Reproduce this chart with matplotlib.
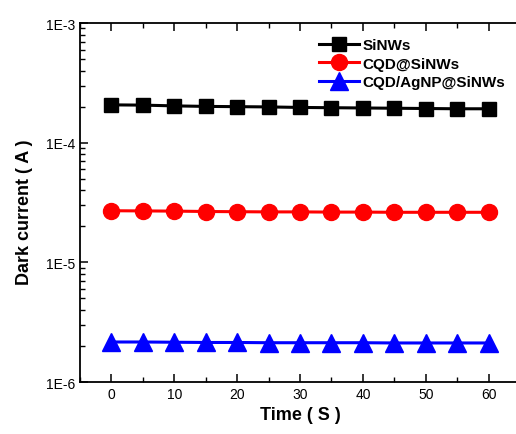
import matplotlib
matplotlib.use("Agg")
import matplotlib.pyplot as plt
from matplotlib.ticker import FixedLocator, FixedFormatter, LogLocator, MultipleLocator, NullFormatter

plt.rcParams['font.family'] = ['Liberation Sans', 'DejaVu Sans']

# time points (s)
time = [0, 5, 10, 15, 20, 25, 30, 35, 40, 45, 50, 55, 60]

# dark current (A)
sinws = [2.07e-4, 2.06e-4, 2.03e-4, 2.01e-4, 2.00e-4, 1.99e-4, 1.97e-4, 1.96e-4, 1.95e-4, 1.94e-4, 1.93e-4, 1.92e-4, 1.92e-4]
cqd_sinws = [2.70e-5, 2.69e-5, 2.68e-5, 2.66e-5, 2.65e-5, 2.64e-5, 2.64e-5, 2.63e-5, 2.63e-5, 2.62e-5, 2.62e-5, 2.62e-5, 2.62e-5]
cqd_agnp_sinws = [2.16e-6, 2.16e-6, 2.15e-6, 2.14e-6, 2.14e-6, 2.13e-6, 2.13e-6, 2.13e-6, 2.13e-6, 2.12e-6, 2.12e-6, 2.12e-6, 2.12e-6]

series_names = ['SiNWs', 'CQD@SiNWs', 'CQD/AgNP@SiNWs']
y_ticks = [1e-6, 1e-5, 1e-4, 1e-3]
y_tick_labels = ['1E-6', '1E-5', '1E-4', '1E-3']

fig = plt.figure(figsize=(5.16, 4.35), dpi=100)
ax = fig.add_axes([0.155, 0.1195, 0.853, 0.8253])

ax.plot(time, sinws, color='black', marker='s', markersize=9.5, linewidth=2.2, label=series_names[0])
ax.plot(time, cqd_sinws, color='red', marker='o', markersize=11.5, linewidth=2.2, label=series_names[1])
ax.plot(time, cqd_agnp_sinws, color='blue', marker='^', markersize=13, linewidth=2.2, label=series_names[2])

ax.set_yscale('log')
ax.set_ylim(1e-6, 1e-3)
ax.set_xlim(-5, 65)

ax.yaxis.set_major_locator(FixedLocator(y_ticks))
ax.yaxis.set_major_formatter(FixedFormatter(y_tick_labels))
ax.yaxis.set_minor_locator(LogLocator(base=10, subs=range(2, 10)))
ax.yaxis.set_minor_formatter(NullFormatter())
ax.xaxis.set_major_locator(MultipleLocator(10))
ax.xaxis.set_minor_locator(MultipleLocator(5))

# the right edge of the frame is cut off in the original picture
ax.spines['right'].set_visible(False)
ax.tick_params(which='both', direction='in', top=True, right=False, labelsize=10)
ax.tick_params(which='major', length=6, width=1.1)
ax.tick_params(which='minor', length=3.5, width=1.0)
for s in ax.spines.values():
    s.set_linewidth(1.3)

ax.set_xlabel('Time ( S )', fontsize=13, fontweight='bold', labelpad=4)
ax.set_ylabel('Dark current ( A )', fontsize=13, fontweight='bold')
ax.yaxis.set_label_coords(-0.107, 0.476)

leg = ax.legend(loc='upper left', bbox_to_anchor=(0.53, 0.975), frameon=False,
                handlelength=2.6, handletextpad=0.2, labelspacing=0.3,
                prop={'weight': 'bold', 'size': 11}, borderaxespad=0)

fig.savefig('out.png', dpi=100)
